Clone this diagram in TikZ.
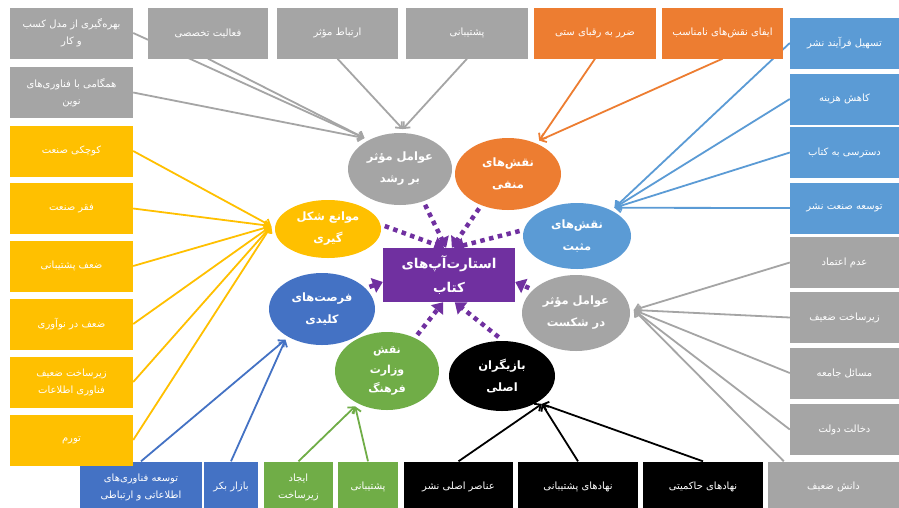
\documentclass[tikz,border=0pt]{standalone}
\usepackage{fontspec}
\usetikzlibrary{arrows.meta,shapes.geometric,calc}
\newfontfamily\fafont[Script=Arabic]{DejaVu Sans}
\TeXXeTstate=1
\newcommand{\fa}[1]{\beginR #1\endR}
\definecolor{cgray}{HTML}{A5A5A5}
\definecolor{corange}{HTML}{ED7D31}
\definecolor{cyellow}{HTML}{FFC000}
\definecolor{cblue}{HTML}{5B9BD5}
\definecolor{cdblue}{HTML}{4472C4}
\definecolor{cgreen}{HTML}{70AD47}
\definecolor{cpurple}{HTML}{7030A0}
\pgfdeclarelayer{backfill}
\pgfdeclarelayer{bglines}
\pgfsetlayers{backfill,bglines,main}
\begin{document}
\begin{tikzpicture}[x=1pt,y=-1pt,
  box/.style={rectangle, fill=#1, text=white, inner sep=1pt, minimum height=51pt, align=center, font=\fafont\fontsize{10}{17}\selectfont},
  ell/.style={ellipse, fill=#1, text=white, inner sep=0pt, outer sep=4pt, align=center, font=\fafont\bfseries\fontsize{11.5}{22}\selectfont},
  conn/.style={draw=#1, line width=1.8pt, -{Straight Barb[length=5pt,width=9pt]}},
  dots/.style={draw=cpurple, line width=4.5pt, dash pattern=on 4.5pt off 4.5pt, -{Triangle[length=10pt,width=15pt]}},
]
\useasboundingbox (0,0) rectangle (899,507);
\begin{pgfonlayer}{backfill}
\fill[white] (0,0) rectangle (899,507);
\end{pgfonlayer}

% top row
\node[box=cgray, minimum width=123pt] (b1) at (71.5,33) {\fa{بهره‌گیری از مدل کسب}\\\fa{و کار}};
\node[box=cgray, minimum width=120pt] (b2) at (208,33) {\fa{فعالیت تخصصی}};
\node[box=cgray, minimum width=121pt] (b3) at (337.5,33) {\fa{ارتباط مؤثر}};
\node[box=cgray, minimum width=122pt] (b4) at (467,33) {\fa{پشتیبانی}};
\node[box=corange, minimum width=122pt] (b5) at (595,33) {\fa{ضرر به رقبای ستی}};
\node[box=corange, minimum width=121pt] (b6) at (722.5,33) {\fa{ایفای نقش‌های نامناسب}};

% bottom row
\node[box=cdblue, minimum width=122pt] (bb1) at (141,487) {\fa{توسعه فناوری‌های}\\\fa{اطلاعاتی و ارتباطی}};
\node[box=cdblue, minimum width=54pt] (bb2) at (231,487) {\fa{بازار بکر}};
\node[box=cgreen, minimum width=69pt] (bg1) at (298.5,487) {\fa{ایجاد}\\\fa{زیرساخت}};
\node[box=cgreen, minimum width=60pt] (bg2) at (368,487) {\fa{پشتیبانی}};
\node[box=black, minimum width=109pt] (bk1) at (458.5,487) {\fa{عناصر اصلی نشر}};
\node[box=black, minimum width=120pt] (bk2) at (578,487) {\fa{نهادهای پشتیبانی}};
\node[box=black, minimum width=120pt] (bk3) at (703,487) {\fa{نهادهای حاکمیتی}};
\node[box=cgray, minimum width=131pt] (dn) at (833.5,487) {\fa{دانش ضعیف}};

% left column
\node[box=cgray, minimum width=123pt] (g2) at (71.5,92.5) {\fa{همگامی با فناوری‌های}\\\fa{نوین}};
\node[box=cyellow, minimum width=123pt] (y1) at (71.5,151) {\fa{کوچکی صنعت}};
\node[box=cyellow, minimum width=123pt] (y2) at (71.5,208.5) {\fa{فقر صنعت}};
\node[box=cyellow, minimum width=123pt] (y3) at (71.5,266) {\fa{ضعف پشتیبانی}};
\node[box=cyellow, minimum width=123pt] (y4) at (71.5,324) {\fa{ضعف در نوآوری}};
\node[box=cyellow, minimum width=123pt] (y5) at (71.5,382) {\fa{زیرساخت ضعیف}\\\fa{فناوری اطلاعات}};
\node[box=cyellow, minimum width=123pt] (y6) at (71.5,440) {\fa{تورم}};

% right column
\node[box=cblue, minimum width=109pt] (r1) at (844.5,43) {\fa{تسهیل فرآیند نشر}};
\node[box=cblue, minimum width=109pt] (r2) at (844.5,99) {\fa{کاهش هزینه}};
\node[box=cblue, minimum width=109pt] (r3) at (844.5,152.5) {\fa{دسترسی به کتاب}};
\node[box=cblue, minimum width=109pt] (r4) at (844.5,208) {\fa{توسعه صنعت نشر}};
\node[box=cgray, minimum width=109pt] (r5) at (844.5,262.5) {\fa{عدم اعتماد}};
\node[box=cgray, minimum width=109pt] (r6) at (844.5,317.5) {\fa{زیرساخت ضعیف}};
\node[box=cgray, minimum width=109pt] (r7) at (844.5,373) {\fa{مسائل جامعه}};
\node[box=cgray, minimum width=109pt] (r8) at (844.5,429.5) {\fa{دخالت دولت}};

% ellipses
\node[ell=cgray, minimum width=104pt, minimum height=72pt] (erosh) at (400,169) {\fa{عوامل مؤثر}\\\fa{بر رشد}};
\node[ell=corange, minimum width=106pt, minimum height=72pt] (emanfi) at (508,174) {\fa{نقش‌های}\\\fa{منفی}};
\node[ell=cblue, minimum width=108pt, minimum height=66pt] (emosbat) at (577,236) {\fa{نقش‌های}\\\fa{مثبت}};
\node[ell=cyellow, minimum width=106pt, minimum height=58pt] (emavane) at (328,229) {\fa{موانع شکل}\\\fa{گیری}};
\node[ell=cdblue, minimum width=106pt, minimum height=72pt] (eforsat) at (322,309) {\fa{فرصت‌های}\\\fa{کلیدی}};
\node[ell=cgreen, minimum width=104pt, minimum height=78pt, font=\fafont\bfseries\fontsize{11}{19.5}\selectfont] (evez) at (387,371) {\fa{نقش}\\\fa{وزارت}\\\fa{فرهنگ}};
\node[ell=black, minimum width=106pt, minimum height=70pt] (ebaz) at (502,376) {\fa{بازیگران}\\\fa{اصلی}};
\node[ell=cgray, minimum width=108pt, minimum height=76pt] (eshek) at (576,313) {\fa{عوامل مؤثر}\\\fa{در شکست}};

% center
\node[rectangle, fill=cpurple, minimum width=132pt, minimum height=54pt, text=white, align=center, font=\fafont\bfseries\fontsize{13.5}{24}\selectfont] (ctr) at (449,275) {\fa{استارت‌آپ‌های}\\\fa{کتاب}};

% thin connectors (behind boxes)
\begin{pgfonlayer}{bglines}
\draw[conn=cgray] (b1.east) -- (erosh.139);
\draw[conn=cgray] (b2.south) -- (erosh.139);
\draw[conn=cgray] (g2.east) -- (erosh.139);
\draw[conn=cgray] (b3.south) -- (erosh.86);
\draw[conn=cgray] (b4.south) -- (erosh.86);
\draw[conn=corange] (b5.south) -- (emanfi.47);
\draw[conn=corange] (b6.south) -- (emanfi.47);
\foreach \n in {r1,r2,r3,r4} \draw[conn=cblue] (\n.west) -- (emosbat.37);
\foreach \n in {r5,r6,r7,r8} \draw[conn=cgray] (\n.west) -- (eshek.3);
\draw[conn=cgray] ([xshift=16pt]dn.north west) -- (eshek.3);
\foreach \n in {y1,y2,y3,y4,y5,y6} \draw[conn=cyellow] (\n.east) -- (emavane.177);
\draw[conn=cdblue] (bb1.north) -- (eforsat.220);
\draw[conn=cdblue] (bb2.north) -- (eforsat.220);
\draw[conn=cgreen] (bg1.north) -- (evez.228);
\draw[conn=cgreen] (bg2.north) -- (evez.228);
\draw[conn=black] (bk1.north) -- (ebaz.325);
\draw[conn=black] (bk2.north) -- (ebaz.325);
\draw[conn=black] (bk3.north) -- (ebaz.325);
\end{pgfonlayer}

% dotted purple arrows
\draw[dots] (emavane.3) -- (ctr.100);
\draw[dots] (erosh.305) -- (ctr.96);
\draw[dots] (emanfi.230) -- (ctr.84);
\draw[dots] (emosbat.175) -- (ctr.80);
\draw[dots] (eforsat.25) -- (ctr.186);
\draw[dots] (eshek.152) -- (ctr.354);
\draw[dots] (evez.50) -- (ctr.258);
\draw[dots] (ebaz.95) -- (ctr.282);
\end{tikzpicture}
\end{document}
